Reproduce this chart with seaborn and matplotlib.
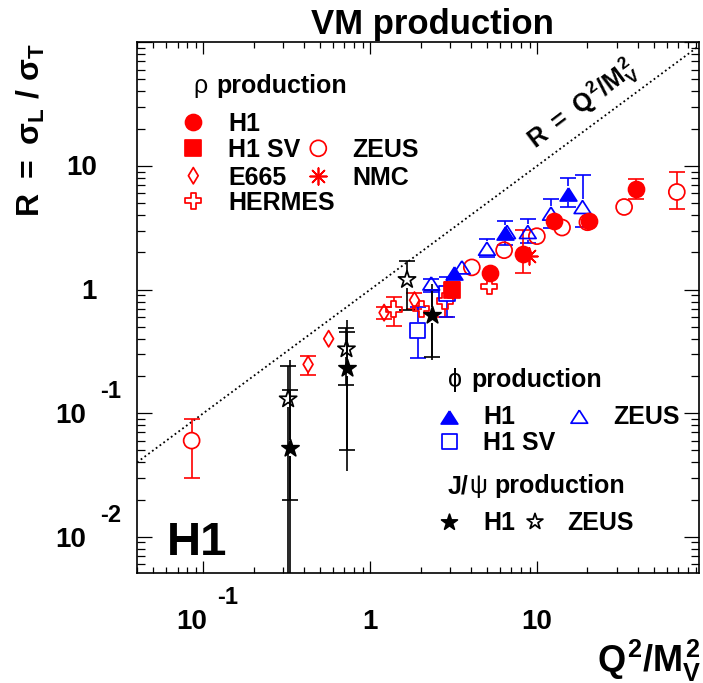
import matplotlib
matplotlib.use("Agg")
import matplotlib.pyplot as plt
import matplotlib.transforms as mtransforms
from matplotlib.ticker import LogLocator, NullFormatter
import numpy as np
import seaborn as sns

nan = float("nan")

# ---------------- rho production ----------------
rho_h1_x = [5.2, 8.2, 12.6, 20.5, 39.0]
rho_h1_r = [1.35, 1.93, 3.6, 3.6, 6.5]
rho_h1_lo = [nan, 1.36, nan, nan, 5.4]
rho_h1_hi = [nan, 3.05, nan, nan, 7.9]

rho_h1sv_x = [3.08]
rho_h1sv_r = [1.0]
rho_h1sv_lo = [0.88]
rho_h1sv_hi = [1.15]

rho_zeus_x = [0.085, 4.06, 6.34, 9.96, 14.1, 20.0, 33.2, 68.7]
rho_zeus_r = [0.06, 1.51, 2.08, 2.70, 3.17, 3.5, 4.65, 6.15]
rho_zeus_lo = [0.03, nan, nan, nan, nan, nan, nan, 4.52]
rho_zeus_hi = [0.09, nan, nan, nan, nan, nan, nan, 8.93]

rho_e665_x = [0.424, 0.563, 1.21, 1.84]
rho_e665_r = [0.248, 0.40, 0.65, 0.82]
rho_e665_lo = [0.202, nan, 0.58, 0.70]
rho_e665_hi = [0.289, nan, 0.72, 0.93]

rho_nmc_x = [8.9]
rho_nmc_r = [1.85]
rho_nmc_lo = [nan]
rho_nmc_hi = [nan]

rho_hermes_x = [1.38, 2.02, 2.81, 5.18]
rho_hermes_r = [0.69, 0.70, 0.81, 1.06]
rho_hermes_lo = [0.51, nan, 0.60, nan]
rho_hermes_hi = [0.87, nan, nan, nan]

# ---------------- phi production ----------------
phi_h1_x = [3.18, 6.38, 15.4]
phi_h1_r = [1.35, 2.84, 5.97]
phi_h1_lo = [nan, 2.3, 4.66]
phi_h1_hi = [nan, 3.59, 8.0]

phi_h1sv_x = [1.92, 2.88]
phi_h1sv_r = [0.469, 0.93]
phi_h1sv_lo = [0.277, 0.60]
phi_h1sv_hi = [0.72, 1.26]

phi_zeus_x = [2.32, 3.54, 5.0, 6.6, 8.79, 12.1, 18.7]
phi_zeus_r = [1.12, 1.51, 2.14, 2.92, 2.92, 4.11, 4.65]
phi_zeus_lo = [0.95, nan, 1.83, nan, 2.4, 3.17, 3.2]
phi_zeus_hi = [1.22, nan, 2.58, nan, 3.7, 5.44, 8.4]

# ---------------- J/psi production ----------------
jpsi_h1_x = [0.332, 0.73, 2.34]
jpsi_h1_r = [0.052, 0.23, 0.62]
jpsi_h1_lo = [0.02, 0.05, 0.285]
jpsi_h1_hi = [0.154, 0.45, 1.0]
jpsi_h1_tot_lo = [0.001, 0.034, 0.27]
jpsi_h1_tot_hi = [0.27, 0.565, 1.1]

jpsi_zeus_x = [0.322, 0.72, 1.66]
jpsi_zeus_r = [0.13, 0.33, 1.2]
jpsi_zeus_lo = [0.001, 0.168, 0.68]
jpsi_zeus_hi = [0.24, 0.484, 1.69]

# axis tick labels
x_tick_vals = [0.1, 1, 10]
x_tick_text = [("10", "-1"), ("1", None), ("10", None)]
y_tick_vals = [0.01, 0.1, 1, 10]
y_tick_text = [("10", "-2"), ("10", "-1"), ("1", None), ("10", None)]

RED, BLUE, BLACK = "#ff0000", "#0000ff", "#000000"

sns.set_theme(style="ticks")
plt.rcParams.update({
    "font.family": ["Liberation Sans", "DejaVu Sans"],
    "font.weight": "bold",
    "mathtext.fontset": "custom",
    "mathtext.rm": "Liberation Sans:bold",
    "mathtext.it": "Liberation Sans:bold",
    "mathtext.bf": "Liberation Sans:bold",
    "mathtext.sf": "Liberation Sans:bold",
    "axes.edgecolor": "black",
    "axes.linewidth": 1.2,
    "xtick.color": "black",
    "ytick.color": "black",
    "text.color": "black",
})

W, H = 703, 683
fig = plt.figure(figsize=(W / 100, H / 100), dpi=100)
AX_L, AX_R, AX_T, AX_B = 137, 699, 42, 573
ax = fig.add_axes([AX_L / W, 1 - AX_B / H, (AX_R - AX_L) / W, (AX_B - AX_T) / H])
ax.set_xscale("log")
ax.set_yscale("log")
ax.set_xlim(0.04, 93.3)
ax.set_ylim(0.0051, 100.4)


def axfrac(px, py):
    return (px - AX_L) / (AX_R - AX_L), (AX_B - py) / (AX_B - AX_T)


# closed triangle outline, a little wider than tall
TRI = [(0, 0.78), (-1, -0.78), (1, -0.78), (0, 0.78)]
STYLE = {
    "circle": dict(marker="o", s=11.5 ** 2),
    "square": dict(marker="s", s=11.0 ** 2),
    "diamond": dict(marker="d", s=8.3 ** 2),
    "cross": dict(marker="P", s=11.5 ** 2),
    "aster": dict(marker=(8, 2, 0), s=12.0 ** 2),
    "tri": dict(marker=TRI, s=12.0 ** 2),
    "star": dict(marker="*", s=13.0 ** 2),
}

MLW = 1.25
ELW = 1.2
CAP = 12.0
GAP = 10 ** (8.0 / 123.7)


def draw_errors(x, r, lo, hi, color, caps=True):
    for xi, ri, l, h in zip(x, r, lo, hi):
        if not np.isnan(h):
            if h > ri * GAP:
                ax.vlines(xi, ri * GAP, h, color=color, lw=ELW, zorder=2)
            if caps:
                ax.plot([xi], [h], marker="_", ms=CAP, mew=ELW, color=color, zorder=2)
        if not np.isnan(l):
            if l < ri / GAP:
                ax.vlines(xi, l, ri / GAP, color=color, lw=ELW, zorder=2)
            if caps:
                ax.plot([xi], [l], marker="_", ms=CAP, mew=ELW, color=color, zorder=2)


def face_of(kind, color, filled):
    # line-only markers take their colour from the face colour
    if filled or kind == "aster":
        return color
    return "none"


def draw_points(x, r, kind, color, filled, z=3):
    st = STYLE[kind]
    sns.scatterplot(x=x, y=r, ax=ax, marker=st["marker"], s=st["s"],
                    color=color, facecolor=face_of(kind, color, filled),
                    edgecolor=color, linewidth=MLW, zorder=z, legend=False)


# R = Q^2/M_V^2 reference line
line_x = [0.04, 93.3]
ax.plot(line_x, line_x, color="black", lw=1.3, ls=(0, (1, 1.6)), zorder=1)

series = [
    (rho_zeus_x, rho_zeus_r, rho_zeus_lo, rho_zeus_hi, "circle", RED, False),
    (rho_e665_x, rho_e665_r, rho_e665_lo, rho_e665_hi, "diamond", RED, False),
    (rho_hermes_x, rho_hermes_r, rho_hermes_lo, rho_hermes_hi, "cross", RED, False),
    (rho_nmc_x, rho_nmc_r, rho_nmc_lo, rho_nmc_hi, "aster", RED, False),
    (phi_zeus_x, phi_zeus_r, phi_zeus_lo, phi_zeus_hi, "tri", BLUE, False),
    (phi_h1sv_x, phi_h1sv_r, phi_h1sv_lo, phi_h1sv_hi, "square", BLUE, False),
    (jpsi_zeus_x, jpsi_zeus_r, jpsi_zeus_lo, jpsi_zeus_hi, "star", BLACK, False),
    (rho_h1_x, rho_h1_r, rho_h1_lo, rho_h1_hi, "circle", RED, True),
    (rho_h1sv_x, rho_h1sv_r, rho_h1sv_lo, rho_h1sv_hi, "square", RED, True),
    (phi_h1_x, phi_h1_r, phi_h1_lo, phi_h1_hi, "tri", BLUE, True),
    (jpsi_h1_x, jpsi_h1_r, jpsi_h1_lo, jpsi_h1_hi, "star", BLACK, True),
]
draw_errors(jpsi_h1_x, jpsi_h1_r, jpsi_h1_tot_lo, jpsi_h1_tot_hi, BLACK, caps=False)
for i, (x, r, lo, hi, kind, col, filled) in enumerate(series):
    draw_errors(x, r, lo, hi, col)
    draw_points(x, r, kind, col, filled, z=3 + 0.01 * i)

# axis ticks
ax.xaxis.set_major_locator(LogLocator(base=10, numticks=12))
ax.xaxis.set_minor_locator(LogLocator(base=10, subs=np.arange(2, 10), numticks=40))
ax.yaxis.set_major_locator(LogLocator(base=10, numticks=12))
ax.yaxis.set_minor_locator(LogLocator(base=10, subs=np.arange(2, 10), numticks=40))
for axis in (ax.xaxis, ax.yaxis):
    axis.set_major_formatter(NullFormatter())
    axis.set_minor_formatter(NullFormatter())
ax.tick_params(axis="x", which="major", direction="in", length=8.6, width=0.9, top=True, bottom=True)
ax.tick_params(axis="x", which="minor", direction="in", length=4.3, width=0.9, top=True, bottom=True)
ax.tick_params(axis="y", which="major", direction="in", length=10.8, width=0.9, left=True, right=True)
ax.tick_params(axis="y", which="minor", direction="in", length=5.8, width=0.9, left=True, right=True)

TICK_FS, SUP_FS = 20, 17
pt = fig.dpi_scale_trans


def shift(dx_px, dy_px):
    return mtransforms.ScaledTranslation(dx_px / 100, dy_px / 100, pt)


ytr = ax.get_yaxis_transform()
for v, (base, sup) in zip(y_tick_vals, y_tick_text):
    if sup is None:
        ax.text((97 - AX_L) / (AX_R - AX_L), v, base, ha="right", va="baseline",
                fontsize=TICK_FS, transform=ytr + shift(0, -9.5))
    else:
        ax.text((86 - AX_L) / (AX_R - AX_L), v, base, ha="right", va="baseline",
                fontsize=TICK_FS, transform=ytr + shift(0, -10.0))
        ax.text((100 - AX_L) / (AX_R - AX_L), v, sup, ha="left", va="baseline",
                fontsize=SUP_FS, transform=ytr + shift(0, 15.0))

xtr = ax.get_xaxis_transform()
xb = (AX_B - 629) / (AX_B - AX_T)
for v, (base, sup) in zip(x_tick_vals, x_tick_text):
    if sup is None:
        ax.text(v, xb, base, ha="center", va="baseline", fontsize=TICK_FS, transform=xtr)
    else:
        ax.text(v, xb, base, ha="center", va="baseline", fontsize=TICK_FS,
                transform=xtr + shift(-12, 0))
        ax.text(v, xb, sup, ha="center", va="baseline", fontsize=SUP_FS,
                transform=xtr + shift(24, 25))

# titles and axis labels
fig.text(432 / W, 1 - 34 / H, "VM production", ha="center", va="baseline",
         fontsize=25, fontweight="bold")
fig.text(31 / W, 1 - 130 / H, r"$R\ =\ \sigma_L\ /\ \sigma_T$", rotation=90,
         ha="center", va="center", fontsize=23)
fig.text(701 / W, 1 - 672 / H, r"$Q^2/M_V^2$", ha="right", va="baseline", fontsize=26)

tx, ty = axfrac(583, 105)
ax.text(tx, ty, r"$R\ =\ Q^2/M_V^2$", rotation=37, rotation_mode="anchor",
        ha="center", va="center", fontsize=18, transform=ax.transAxes)

hx, hy = axfrac(167, 555)
ax.text(hx, hy, "H1", ha="left", va="baseline", fontsize=34, fontweight="bold",
        transform=ax.transAxes)

# legend blocks
LEG_FS = 18


def leg_marker(px, py, kind, color, filled, scale=1.0):
    st = STYLE[kind]
    fx, fy = axfrac(px, py)
    ax.scatter([fx], [fy], marker=st["marker"], s=st["s"] * scale,
               facecolor=face_of(kind, color, filled), edgecolor=color,
               linewidth=MLW, transform=ax.transAxes, clip_on=False, zorder=5)


def leg_text(px, py_base, s, weight="bold", fs=LEG_FS):
    fx, fy = axfrac(px, py_base)
    ax.text(fx, fy, s, ha="left", va="baseline", fontsize=fs, fontweight=weight,
            transform=ax.transAxes)


# rho block
leg_text(193, 93, "\u03c1", weight="normal")
leg_text(216, 93, "production")
rows = [121.7, 148.3, 175.7, 200.7]
leg_marker(193.3, rows[0], "circle", RED, True)
leg_text(228, rows[0] + 9, "H1")
leg_marker(193.3, rows[1], "square", RED, True)
leg_text(228, rows[1] + 9, "H1 SV")
leg_marker(318.3, rows[1], "circle", RED, False)
leg_text(352.7, rows[1] + 9, "ZEUS")
leg_marker(193.3, rows[2], "diamond", RED, False)
leg_text(228, rows[2] + 9, "E665")
leg_marker(318.3, rows[2], "aster", RED, False)
leg_text(352.7, rows[2] + 9, "NMC")
leg_marker(193.3, rows[3], "cross", RED, False)
leg_text(228, rows[3] + 9, "HERMES")

# phi block
leg_text(448, 387, "\u03d5", weight="normal")
leg_text(471, 387, "production")
leg_marker(449.3, 416.7, "tri", BLUE, True)
leg_text(483.3, 424, "H1")
leg_marker(579.3, 416.7, "tri", BLUE, False)
leg_text(613.3, 424, "ZEUS")
leg_marker(449.3, 441.7, "square", BLUE, False, scale=0.9)
leg_text(483.3, 450, "H1 SV")

# J/psi block
leg_text(448, 493, "J/")
leg_text(469, 493, "\u03c8", weight="normal")
leg_text(494, 493, "production")
leg_marker(449.3, 521.7, "star", BLACK, True, scale=0.85)
leg_text(483.3, 530, "H1")
leg_marker(535, 521.7, "star", BLACK, False, scale=0.85)
leg_text(567.7, 530, "ZEUS")

fig.savefig("out.png", dpi=100)
